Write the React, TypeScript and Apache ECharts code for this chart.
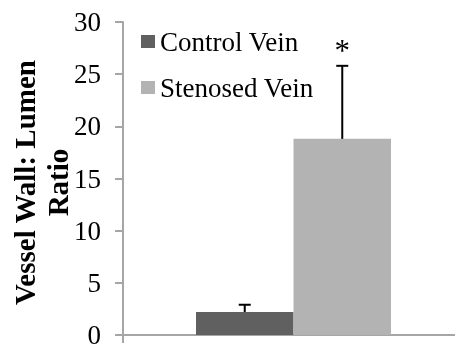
import React, { useEffect, useRef } from "react";
import * as echarts from "echarts";

const categories = [""];
const seriesNames = ["Control Vein", "Stenosed Vein"];
const means = [2.2, 18.8];
const upperErrors = [2.9, 25.8];
const significance = ["", "*"];
const yTicks = { min: 0, max: 30, interval: 5 };
const colors = ["#606060", "#b3b3b3"];

const FONT = "'Liberation Serif', 'Times New Roman', serif";
const AXIS_COLOR = "#a6a6a6";

export default function App() {
  const ref = useRef<HTMLDivElement>(null);
  useEffect(() => {
    if (!ref.current) return;
    const chart = echarts.init(ref.current, undefined, { renderer: "svg" });
    const barFrac = 0.286;
    const errSeries = seriesNames.map((name, i) => ({
      type: "custom",
      name: name + " err",
      z: 5,
      data: [[0, means[i], upperErrors[i]]],
      encode: { x: 0, y: [1, 2] },
      renderItem: (params: any, api: any) => {
        const catW = api.size([1, 0])[0];
        const off = (i === 0 ? -0.5 : 0.5) * catW * barFrac;
        const p0 = api.coord([api.value(0), api.value(1)]);
        const p1 = api.coord([api.value(0), api.value(2)]);
        const x = p0[0] + off;
        const cap = 6;
        const children: any[] = [
          { type: "line", shape: { x1: x, y1: p0[1], x2: x, y2: p1[1] }, style: { stroke: "#000", lineWidth: 2 } },
          { type: "line", shape: { x1: x - cap, y1: p1[1], x2: x + cap, y2: p1[1] }, style: { stroke: "#000", lineWidth: 2 } },
        ];
        if (significance[i]) {
          children.push({
            type: "text",
            style: {
              x: x,
              y: p1[1] - 15,
              text: significance[i],
              fontSize: 31,
              fontFamily: FONT,
              fill: "#000",
              align: "center",
              verticalAlign: "middle",
            },
          });
        }
        return { type: "group", children };
      },
    }));
    chart.setOption({
      animation: false,
      grid: { left: 123, right: -9, top: 22, bottom: 10, containLabel: false, outerBoundsMode: "none" },
      legend: {
        orient: "vertical",
        left: 141,
        top: 28,
        padding: 0,
        itemGap: 19,
        itemWidth: 14,
        itemHeight: 13,
        icon: "rect",
        data: seriesNames,
        textStyle: { fontSize: 27, fontFamily: FONT, color: "#000", lineHeight: 27 },
      },
      xAxis: {
        type: "category",
        data: categories,
        axisLine: { lineStyle: { color: AXIS_COLOR, width: 2 } },
        axisTick: { show: true, length: 8, lineStyle: { color: AXIS_COLOR, width: 2 } },
        axisLabel: { show: false },
      },
      yAxis: {
        type: "value",
        min: yTicks.min,
        max: yTicks.max,
        interval: yTicks.interval,
        name: "Vessel Wall: Lumen\nRatio",
        nameLocation: "middle",
        nameGap: 49,
        nameMoveOverlap: false,
        nameTextStyle: {
          fontSize: 29,
          fontWeight: "bold",
          fontFamily: FONT,
          color: "#000",
          lineHeight: 33,
          padding: [0, 8, 0, 0],
        },
        axisLine: { show: true, lineStyle: { color: AXIS_COLOR, width: 2 } },
        axisTick: { show: true, length: 8, lineStyle: { color: AXIS_COLOR, width: 2 } },
        axisLabel: { fontSize: 27, fontFamily: FONT, color: "#000", margin: 22 },
        splitLine: { show: false },
      },
      series: [
        ...seriesNames.map((name, i) => ({
          type: "bar",
          name,
          data: [means[i]],
          barWidth: 97.5,
          barGap: "0%",
          itemStyle: { color: colors[i] },
        })),
        ...errSeries,
      ],
    });
    return () => chart.dispose();
  }, []);
  return <div ref={ref} style={{ position: "fixed", left: 0, top: 0, width: 455, height: 345 }} />;
}
